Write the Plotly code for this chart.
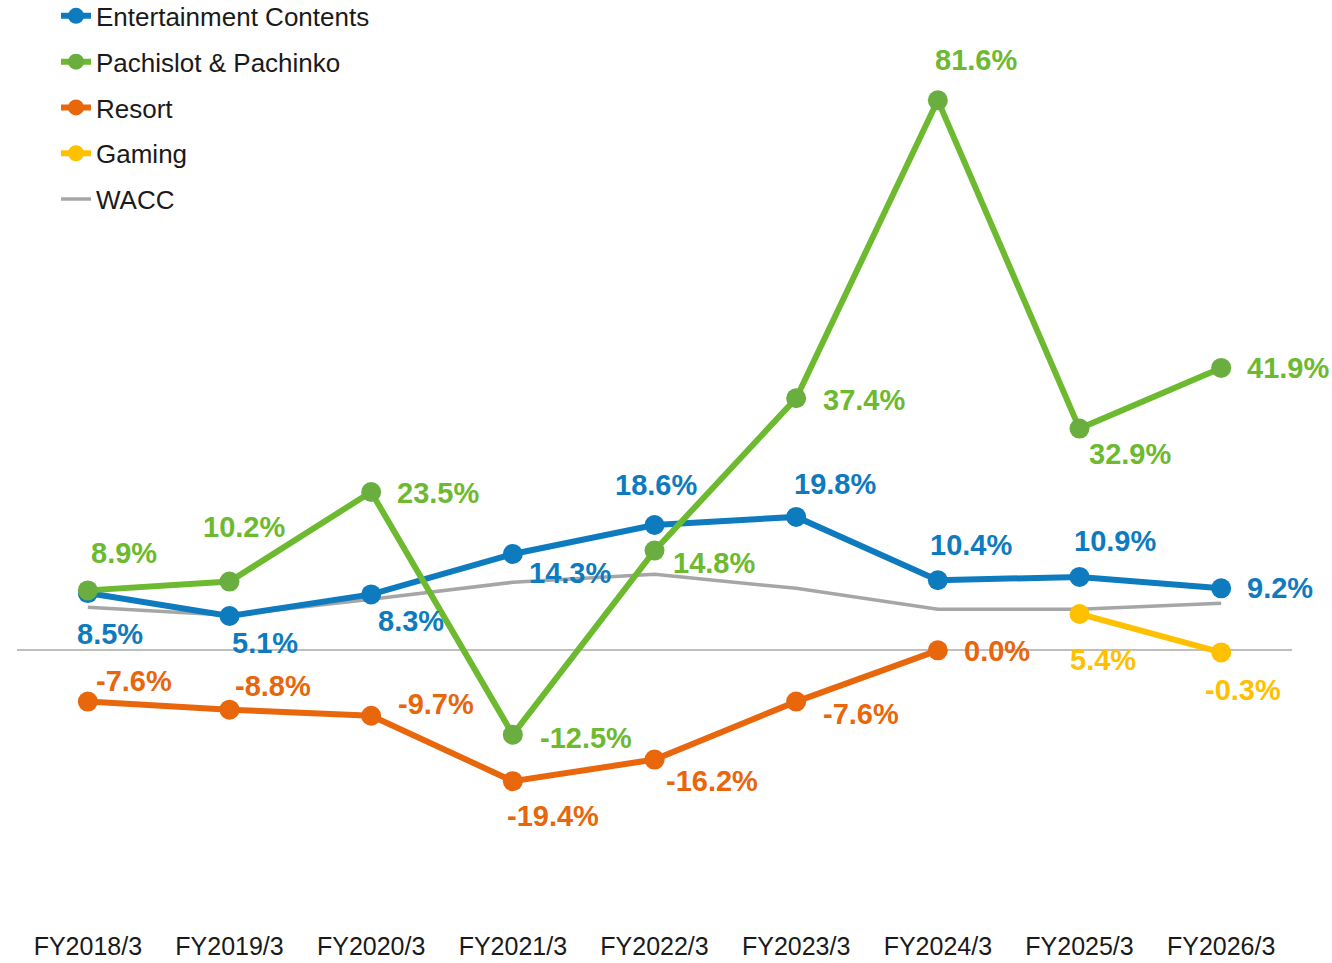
import plotly.graph_objects as go

# Category labels
years = ['FY2018/3', 'FY2019/3', 'FY2020/3', 'FY2021/3', 'FY2022/3',
         'FY2023/3', 'FY2024/3', 'FY2025/3', 'FY2026/3']

# ROIC by segment (%)
entertainment = [8.5, 5.1, 8.3, 14.3, 18.6, 19.8, 10.4, 10.9, 9.2]
pachislot = [8.9, 10.2, 23.5, -12.5, 14.8, 37.4, 81.6, 32.9, 41.9]
resort = [-7.6, -8.8, -9.7, -19.4, -16.2, -7.6, 0.0]
gaming_years = ['FY2025/3', 'FY2026/3']
gaming = [5.4, -0.3]
wacc = [6.4, 5.2, 7.6, 10.1, 11.3, 9.2, 6.1, 6.1, 7.0]

colors = {
    'ent': '#0E7BBF',
    'pachi': '#6DB92F',
    'pachi_marker': '#6AAE3F',
    'resort': '#E8660C',
    'gaming': '#FFC000',
    'wacc': '#A6A6A6',
}

# label offsets in pixels (dx, dy) relative to each point
ent_shift = [(22, -41), (35, -27), (40, -27), (57, -19), (1, 40), (39, 33),
             (33, 35), (35, 36), (59, 0)]
pachi_shift = [(36, 37), (14, 55), (67, -1), (73, -3), (59, -12), (68, -2),
               (38, 40), (50, -25), (67, 0)]
resort_shift = [(46, 21), (43, 24), (65, 12), (40, -35), (57, -21), (65, -12),
                (59, -1)]
gaming_shift = [(23, -46), (22, -38)]

label_font = 'Liberation Sans, Arial, sans-serif'

fig = go.Figure()


def add_series(x, y, name, color, marker_color, rank, width=6, size=20, markers=True):
    fig.add_trace(go.Scatter(
        x=x, y=y, name=name,
        mode='lines+markers' if markers else 'lines',
        line=dict(color=color, width=width),
        marker=dict(color=marker_color, size=size),
        legendgroup=name, legendrank=rank,
        hoverinfo='skip',
    ))


def add_labels(x, y, shifts, color):
    for xi, yi, (dx, dy) in zip(x, y, shifts):
        fig.add_annotation(
            x=xi, y=yi, text=f'<b>{yi:.1f}%</b>', showarrow=False,
            xshift=dx, yshift=dy,
            font=dict(family=label_font, size=29, color=color),
        )


add_series(years, wacc, 'WACC', colors['wacc'], colors['wacc'], 5, width=3.5, markers=False)
add_series(gaming_years, gaming, 'Gaming', colors['gaming'], colors['gaming'], 4)
add_series(years[:len(resort)], resort, 'Resort', colors['resort'], colors['resort'], 3)
add_series(years, entertainment, 'Entertainment Contents', colors['ent'], colors['ent'], 1)
add_series(years, pachislot, 'Pachislot & Pachinko', colors['pachi'], colors['pachi_marker'], 2)

add_labels(years, entertainment, ent_shift, colors['ent'])
add_labels(years, pachislot, pachi_shift, colors['pachi'])
add_labels(years[:len(resort)], resort, resort_shift, colors['resort'])
add_labels(gaming_years, gaming, gaming_shift, colors['gaming'])

fig.update_layout(
    width=1332, height=963,
    margin=dict(l=17, r=40, t=10, b=43, autoexpand=False),
    paper_bgcolor='white',
    plot_bgcolor='white',
    showlegend=True,
    legend=dict(
        x=0.0306, y=1.0193, xanchor='left', yanchor='top',
        font=dict(family=label_font, size=26, color='#1a1a1a'),
        tracegroupgap=9,
        bgcolor='rgba(0,0,0,0)',
    ),
    xaxis=dict(
        type='category', categoryorder='array', categoryarray=years,
        range=[-0.5, 8.5],
        showgrid=False, showline=False, ticks='',
        ticklabelstandoff=9,
        tickfont=dict(family=label_font, size=25, color='#1a1a1a'),
    ),
    yaxis=dict(
        range=[-40, 95], showgrid=False, showticklabels=False,
        zeroline=True, zerolinecolor='#BFBFBF', zerolinewidth=1.5,
    ),
)

# drop the default 8px page margin so the figure fills the window
fig.write_html('out.html', config={'displayModeBar': False},
               post_script="document.body.style.margin='0';")
